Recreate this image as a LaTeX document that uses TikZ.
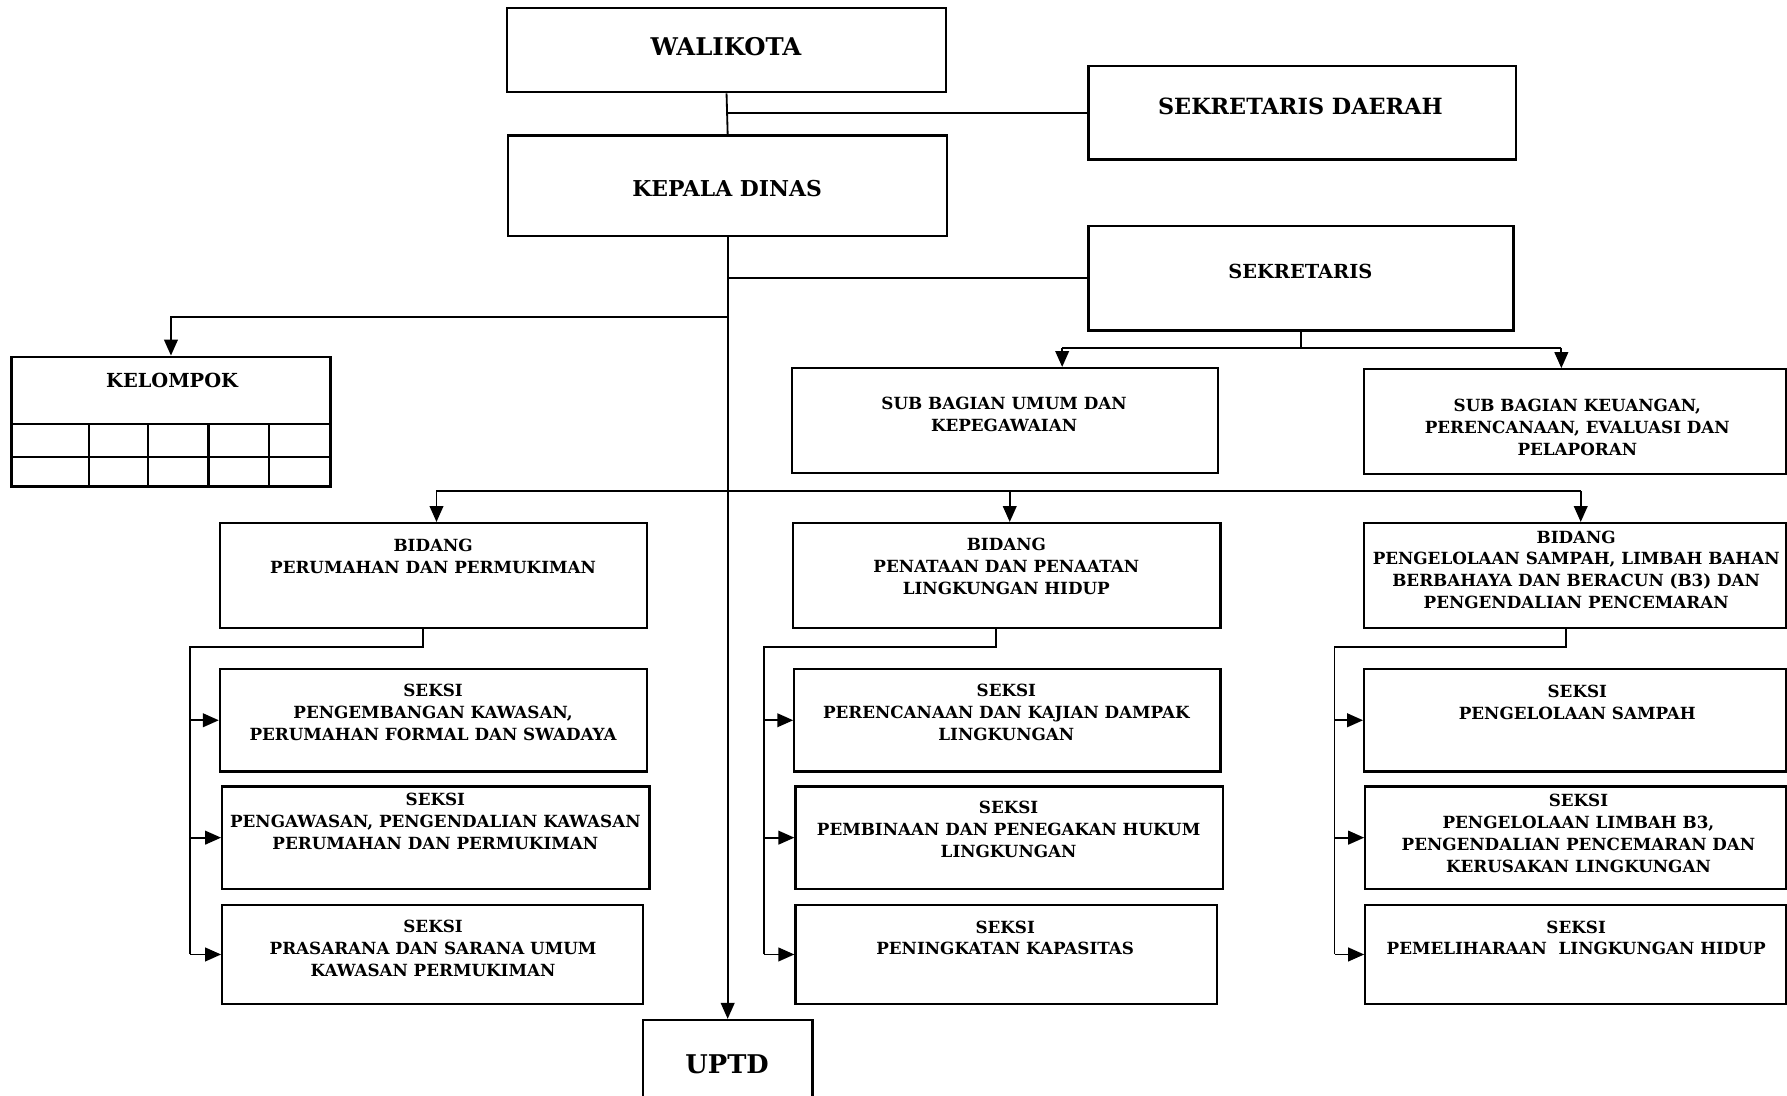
\documentclass[tikz,border=0pt]{standalone}
\usepackage{fontspec}
\setmainfont{DejaVu Serif}
\usetikzlibrary{positioning,fit,arrows.meta}

\begin{document}
\begin{tikzpicture}[x=0.5pt, y=-0.5pt,
    box/.style={draw, line width=1pt, inner sep=0pt},
    link/.style={line width=0.8pt},
    arr/.style={link, -{Triangle[length=7pt,width=6pt]}},
    lbl/.style={align=center, font=\bfseries\fontsize{7.35}{9.6}\selectfont},
    mid/.style={align=center, font=\bfseries\fontsize{8.5}{10}\selectfont},
    big/.style={align=center, font=\bfseries\fontsize{10}{12}\selectfont}
    ]
    \useasboundingbox (0,0) rectangle (1568,961);

    % top level
    \node[box, fit={(445,7) (830,81)}] (wali) {};
    \node[big, font=\bfseries\fontsize{10.7}{12}\selectfont] (t-wali) at (637,41) {WALIKOTA};
    \node[box, fit={(955,58) (1330,140)}] (sekda) {};
    \node[big, font=\bfseries\fontsize{9.8}{12}\selectfont] (t-sekda) at (1141,93) {SEKRETARIS DAERAH};
    \node[box, fit={(446,119) (831,207)}] (kadis) {};
    \node[big, font=\bfseries\fontsize{9.6}{12}\selectfont] (t-kadis) at (638,165) {KEPALA DINAS};
    \node[box, fit={(955,198) (1328,290)}] (sekr) {};
    \node[mid] (t-sekr) at (1141,238) {SEKRETARIS};

    \draw[link] (wali.south) -- (kadis.north);
    \draw[link] (wali.south |- sekda.west) -- (sekda.west);
    \draw[link] (kadis.south |- sekr.west) -- (sekr.west);

    % kelompok
    \node[box, fit={(10,313) (290,427)}] (kel) {};
    \node[mid] (t-kel) at (151,334) {KELOMPOK};
    \draw[box] (10,372) -- (290,372);
    \draw[box] (10,401) -- (290,401);
    \foreach \cx in {78,130,183,236}
        \draw[box] (\cx,372) -- (\cx,427);

    % uptd
    \node[box, fit={(564,895) (713,975)}] (uptd) {};
    \node[big, font=\bfseries\fontsize{11.3}{13}\selectfont] (t-uptd) at (638,934) {UPTD};
    \draw[arr] (kadis.south) -- (kadis.south |- uptd.north);
    \coordinate (kbr) at (638,278);
    \draw[arr] (kbr) -| (kel.north);

    % sub bagian
    \node[box, fit={(695,323) (1069,415)}] (sub1) {};
    \node[lbl] (t-sub1) at (881,364) {SUB BAGIAN UMUM DAN\\KEPEGAWAIAN};
    \node[box, fit={(1197,324) (1567,416)}] (sub2) {};
    \node[lbl] (t-sub2) at (1384,375) {SUB BAGIAN KEUANGAN,\\PERENCANAAN, EVALUASI DAN\\PELAPORAN};
    \coordinate (sl) at (932,305);
    \coordinate (sr) at (1370,305);
    \draw[link] (sekr.south) -- (sekr.south |- sl);
    \draw[link] (sl) -- (sr);
    \draw[arr] (sl) -- (sl |- sub1.north);
    \draw[arr] (sr) -- (sr |- sub2.north);

    % bidang
    \node[box, fit={(193,459) (568,551)}] (bid1) {};
    \node[lbl] (t-bid1) at (380,488) {BIDANG\\PERUMAHAN DAN PERMUKIMAN};
    \node[box, fit={(696,459) (1071,551)}] (bid2) {};
    \node[lbl] (t-bid2) at (883,497) {BIDANG\\PENATAAN DAN PENAATAN\\LINGKUNGAN HIDUP};
    \node[box, fit={(1197,459) (1567,551)}] (bid3) {};
    \node[lbl] (t-bid3) at (1383,500) {BIDANG\\PENGELOLAAN SAMPAH, LIMBAH BAHAN\\BERBAHAYA DAN BERACUN (B3) DAN\\PENGENDALIAN PENCEMARAN};
    \coordinate (b1) at (383,431);
    \coordinate (b2) at (886,431);
    \coordinate (b3) at (1387,431);
    \draw[link] (b1) -- (b3);
    \draw[arr] (b1) -- (b1 |- bid1.north);
    \draw[arr] (b2) -- (b2 |- bid2.north);
    \draw[arr] (b3) -- (b3 |- bid3.north);

    % seksi bidang 1
    \node[box, fit={(193,587) (568,677)}] (s11) {};
    \node[lbl] (t-s11) at (380,625) {SEKSI\\PENGEMBANGAN KAWASAN,\\PERUMAHAN FORMAL DAN SWADAYA};
    \node[box, fit={(195,690) (570,780)}] (s12) {};
    \node[lbl] (t-s12) at (382,721) {SEKSI\\PENGAWASAN, PENGENDALIAN KAWASAN\\PERUMAHAN DAN PERMUKIMAN};
    \node[box, fit={(195,794) (564,881)}] (s13) {};
    \node[lbl] (t-s13) at (380,832) {SEKSI\\PRASARANA DAN SARANA UMUM\\KAWASAN PERMUKIMAN};
    \coordinate (d1) at (371,568);
    \coordinate (r1) at (167,568);
    \draw[link] (d1 |- bid1.south) -- (d1) -- (r1) -- (r1 |- s13.west);
    \draw[arr] (r1 |- s11.west) -- (s11.west);
    \draw[arr] (r1 |- s12.west) -- (s12.west);
    \draw[arr] (r1 |- s13.west) -- (s13.west);

    % seksi bidang 2
    \node[box, fit={(697,587) (1071,677)}] (s21) {};
    \node[lbl] (t-s21) at (883,625) {SEKSI\\PERENCANAAN DAN KAJIAN DAMPAK\\LINGKUNGAN};
    \node[box, fit={(698,690) (1073,780)}] (s22) {};
    \node[lbl] (t-s22) at (885,728) {SEKSI\\PEMBINAAN DAN PENEGAKAN HUKUM\\LINGKUNGAN};
    \node[box, fit={(698,794) (1068,881)}] (s23) {};
    \node[lbl] (t-s23) at (882,823) {SEKSI\\PENINGKATAN KAPASITAS};
    \coordinate (d2) at (874,568);
    \coordinate (r2) at (670,568);
    \draw[link] (d2 |- bid2.south) -- (d2) -- (r2) -- (r2 |- s23.west);
    \draw[arr] (r2 |- s21.west) -- (s21.west);
    \draw[arr] (r2 |- s22.west) -- (s22.west);
    \draw[arr] (r2 |- s23.west) -- (s23.west);

    % seksi bidang 3
    \node[box, fit={(1197,587) (1567,677)}] (s31) {};
    \node[lbl] (t-s31) at (1384,616) {SEKSI\\PENGELOLAAN SAMPAH};
    \node[box, fit={(1198,690) (1567,780)}] (s32) {};
    \node[lbl] (t-s32) at (1385,731) {SEKSI\\PENGELOLAAN LIMBAH B3,\\PENGENDALIAN PENCEMARAN DAN\\KERUSAKAN LINGKUNGAN};
    \node[box, fit={(1198,794) (1567,881)}] (s33) {};
    \node[lbl] (t-s33) at (1383,823) {SEKSI\\PEMELIHARAAN~ LINGKUNGAN HIDUP};
    \coordinate (d3) at (1374,568);
    \coordinate (r3) at (1171,568);
    \draw[link] (d3 |- bid3.south) -- (d3) -- (r3) -- (r3 |- s33.west);
    \draw[arr] (r3 |- s31.west) -- (s31.west);
    \draw[arr] (r3 |- s32.west) -- (s32.west);
    \draw[arr] (r3 |- s33.west) -- (s33.west);

\end{tikzpicture}
\end{document}
